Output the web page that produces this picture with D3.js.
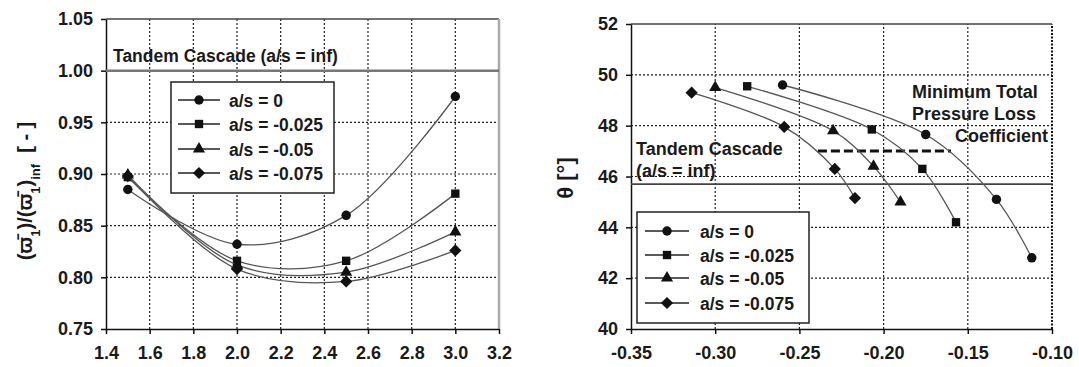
<!DOCTYPE html>
<html>
<head>
<meta charset="utf-8">
<script src="https://cdn.jsdelivr.net/npm/d3@7"></script>
<style>
  body { margin: 0; background: white; }
  svg text { font-family: "Liberation Sans", Arial, sans-serif; font-weight: bold; fill: #1a1a1a; }
  .axis path, .axis line { stroke: #111; stroke-width: 1.5; }
  .axis text { font-size: 18px; }
  .grid { stroke: #222; stroke-width: 1.2; stroke-dasharray: 2,2; }
  .serie { fill: none; stroke: #555; stroke-width: 1.3; }
</style>
</head>
<body>
<svg width="1079" height="367"></svg>
<script>
// ---- donnees ----
var seriesNames = ["a/s = 0", "a/s = -0.025", "a/s = -0.05", "a/s = -0.075"];

// graphe gauche : pertes relatives vs x
var xLeft = [1.5, 2.0, 2.5, 3.0];
var lossAs0 = [0.885, 0.832, 0.860, 0.975];
var lossAs025 = [0.897, 0.816, 0.816, 0.881];
var lossAs05 = [0.899, 0.812, 0.805, 0.844];
var lossAs075 = [0.898, 0.808, 0.796, 0.826];
var tandemLoss = 1.00;

// graphe droite : theta vs abscisse
var xRightAs0 = [-0.260, -0.175, -0.133, -0.112];
var thetaAs0 = [49.6, 47.65, 45.1, 42.8];
var xRightAs025 = [-0.281, -0.207, -0.177, -0.157];
var thetaAs025 = [49.55, 47.85, 46.3, 44.2];
var xRightAs05 = [-0.300, -0.230, -0.206, -0.190];
var thetaAs05 = [49.5, 47.8, 46.4, 45.0];
var xRightAs075 = [-0.314, -0.259, -0.229, -0.217];
var thetaAs075 = [49.3, 47.95, 46.3, 45.15];
var tandemTheta = 45.7;
var minLossTheta = 47.0;
var minLossX = [-0.239, -0.160];

var leftXTicks = [1.4, 1.6, 1.8, 2.0, 2.2, 2.4, 2.6, 2.8, 3.0, 3.2];
var leftYTicks = [0.75, 0.80, 0.85, 0.90, 0.95, 1.00, 1.05];
var rightXTicks = [-0.35, -0.30, -0.25, -0.20, -0.15, -0.10];
var rightYTicks = [40, 42, 44, 46, 48, 50, 52];

var symbols = [d3.symbolCircle, d3.symbolSquare, d3.symbolTriangle, d3.symbolDiamond2 || d3.symbolDiamond];
var symbolSizes = [70, 70, 64, 95];

var svg = d3.select("svg");

// format avec un tiret simple (pas le signe moins unicode)
function fmt(spec) {
  var f = d3.format(spec);
  return function (d) { return f(d).replace("\u2212", "-"); };
}

function drawPanel(cfg) {
  var g = svg.append("g");
  var x = cfg.x, y = cfg.y;
  var x0 = x.range()[0], x1 = x.range()[1], y0 = y.range()[0], y1 = y.range()[1];

  // grille pointillee
  g.selectAll("line.gv").data(cfg.xTicks.slice(1, -1)).enter().append("line")
    .attr("class", "grid")
    .attr("x1", function (d) { return x(d); }).attr("x2", function (d) { return x(d); })
    .attr("y1", y0).attr("y2", y1);
  g.selectAll("line.gh").data(cfg.yTicks.slice(1, -1)).enter().append("line")
    .attr("class", "grid")
    .attr("x1", x0).attr("x2", x1)
    .attr("y1", function (d) { return y(d); }).attr("y2", function (d) { return y(d); });

  // cadre haut / droite
  g.append("line").attr("x1", x0).attr("x2", x1).attr("y1", y1).attr("y2", y1)
    .attr("stroke", "#444").attr("stroke-width", 1.5);
  g.append("line").attr("x1", x1).attr("x2", x1).attr("y1", y0).attr("y2", y1)
    .attr("stroke", cfg.rightColor).attr("stroke-width", cfg.rightWidth)
    .attr("stroke-dasharray", cfg.rightDash);

  // axes
  g.append("g").attr("class", "axis").attr("transform", "translate(0," + y0 + ")")
    .call(d3.axisBottom(x).tickValues(cfg.xTicks).tickFormat(fmt(cfg.xFmt)).tickSizeInner(5).tickSizeOuter(0).tickPadding(12));
  g.append("g").attr("class", "axis").attr("transform", "translate(" + x0 + ",0)")
    .call(d3.axisLeft(y).tickValues(cfg.yTicks).tickFormat(fmt(cfg.yFmt)).tickSizeInner(5).tickSizeOuter(0).tickPadding(8));
  g.selectAll(".axis .domain").attr("stroke-width", 2);

  return g;
}

function drawSeries(g, x, y, xs, ys, k) {
  var pts = xs.map(function (v, i) { return [v, ys[i]]; });
  var ligne = d3.line()
    .x(function (d) { return x(d[0]); })
    .y(function (d) { return y(d[1]); })
    .curve(d3.curveCatmullRom.alpha(0.5));
  g.append("path").datum(pts).attr("class", "serie").attr("d", ligne);
  g.selectAll("path.m" + k).data(pts).enter().append("path")
    .attr("class", "m" + k)
    .attr("d", d3.symbol().type(symbols[k]).size(symbolSizes[k]))
    .attr("transform", function (d) { return "translate(" + x(d[0]) + "," + y(d[1]) + ")"; })
    .attr("fill", "#111");
}

function drawLegend(g, left, top, w, h, rowY, lineX, textX) {
  g.append("rect").attr("x", left).attr("y", top).attr("width", w).attr("height", h)
    .attr("fill", "white").attr("stroke", "#222").attr("stroke-width", 1.5);
  seriesNames.forEach(function (name, k) {
    var yy = top + rowY[k];
    g.append("line").attr("x1", left + lineX[0]).attr("x2", left + lineX[1])
      .attr("y1", yy).attr("y2", yy).attr("stroke", "#222").attr("stroke-width", 1.5);
    g.append("path").attr("d", d3.symbol().type(symbols[k]).size(symbolSizes[k]))
      .attr("transform", "translate(" + (left + (lineX[0] + lineX[1]) / 2) + "," + yy + ")")
      .attr("fill", "#111");
    g.append("text").attr("x", left + textX).attr("y", yy + 6.5).style("font-size", "17.5px").text(name);
  });
}

// ---- graphe gauche ----
var xL = d3.scaleLinear().domain([1.4, 3.2]).range([106, 499]);
var yL = d3.scaleLinear().domain([0.75, 1.05]).range([329, 19]);
var gL = drawPanel({ x: xL, y: yL, xTicks: leftXTicks, yTicks: leftYTicks, xFmt: ".1f", yFmt: ".2f",
  rightColor: "#aaa", rightWidth: 2.5, rightDash: null });

gL.append("line").attr("x1", xL(1.4)).attr("x2", xL(3.2))
  .attr("y1", yL(tandemLoss)).attr("y2", yL(tandemLoss))
  .attr("stroke", "#777").attr("stroke-width", 2.5);
gL.append("text").attr("x", 113).attr("y", 62).style("font-size", "17.5px")
  .text("Tandem Cascade (a/s = inf)");

[lossAs0, lossAs025, lossAs05, lossAs075].forEach(function (ys, k) {
  drawSeries(gL, xL, yL, xLeft, ys, k);
});
drawLegend(gL, 171, 82, 163, 111, [18, 42, 67, 91], [7, 49], 58);

// titre axe y gauche
var labL = svg.append("text").attr("transform", "translate(32,191) rotate(-90)")
  .attr("text-anchor", "middle").style("font-size", "20px");
labL.append("tspan").text("(\u03d6\u0304");
labL.append("tspan").attr("baseline-shift", "sub").style("font-size", "13px").text("1");
labL.append("tspan").text(")/(\u03d6\u0304");
labL.append("tspan").attr("baseline-shift", "sub").style("font-size", "13px").text("1");
labL.append("tspan").text(")");
labL.append("tspan").attr("baseline-shift", "sub").style("font-size", "13px").text("inf");
labL.append("tspan").text("\u00a0\u00a0[ - ]");

// ---- graphe droite ----
var xR = d3.scaleLinear().domain([-0.35, -0.10]).range([631, 1052]);
var yR = d3.scaleLinear().domain([40, 52]).range([329, 24]);
var gR = drawPanel({ x: xR, y: yR, xTicks: rightXTicks, yTicks: rightYTicks, xFmt: ".2f", yFmt: "d",
  rightColor: "#111", rightWidth: 2, rightDash: "2,1.5" });

gR.append("line").attr("x1", xR(-0.35)).attr("x2", xR(-0.10))
  .attr("y1", yR(tandemTheta)).attr("y2", yR(tandemTheta))
  .attr("stroke", "#444").attr("stroke-width", 1.8);
gR.append("line").attr("x1", xR(minLossX[0])).attr("x2", xR(minLossX[1]))
  .attr("y1", yR(minLossTheta)).attr("y2", yR(minLossTheta))
  .attr("stroke", "#111").attr("stroke-width", 3).attr("stroke-dasharray", "9,4");

gR.append("text").attr("x", 636).attr("y", 155).style("font-size", "18px").text("Tandem Cascade");
gR.append("text").attr("x", 636).attr("y", 177).style("font-size", "18px").text("(a/s = inf)");
gR.append("text").attr("x", 912).attr("y", 98).style("font-size", "18px").text("Minimum Total");
gR.append("text").attr("x", 912).attr("y", 120).style("font-size", "18px").text("Pressure Loss");
gR.append("text").attr("x", 1048).attr("y", 142).attr("text-anchor", "end").style("font-size", "18px").text("Coefficient");

[[xRightAs0, thetaAs0], [xRightAs025, thetaAs025], [xRightAs05, thetaAs05], [xRightAs075, thetaAs075]]
  .forEach(function (s, k) { drawSeries(gR, xR, yR, s[0], s[1], k); });
drawLegend(gR, 637, 212, 172, 111, [19, 43, 66, 91], [8, 52], 63);

svg.append("text").attr("transform", "translate(573,178) rotate(-90)")
  .attr("text-anchor", "middle").style("font-size", "22px").text("\u03b8 [\u00b0]");
</script>
</body>
</html>
